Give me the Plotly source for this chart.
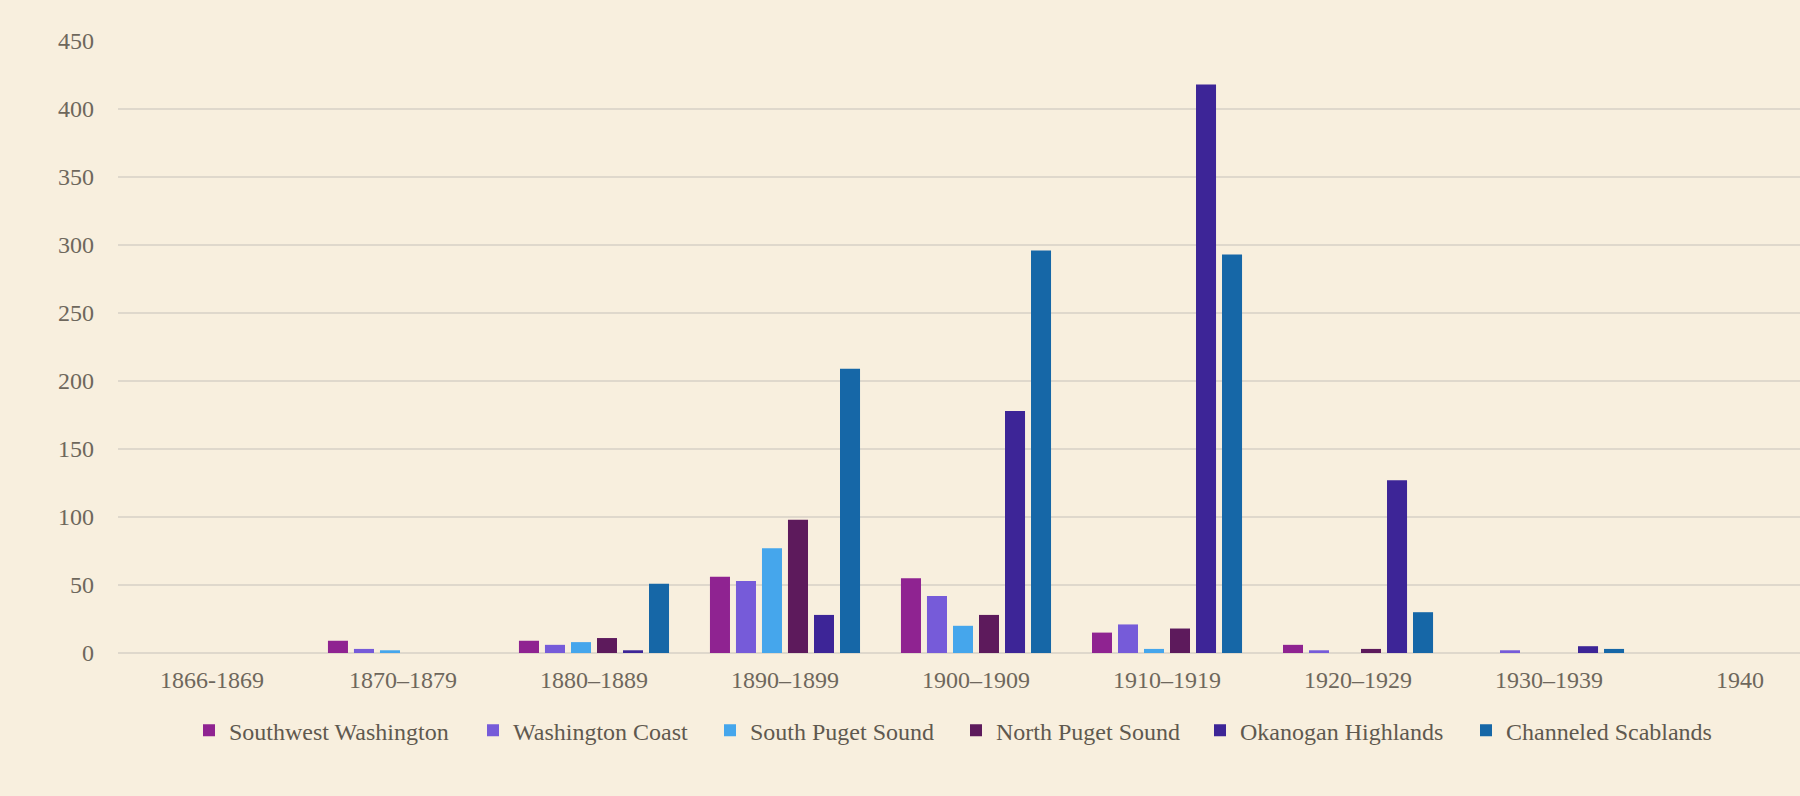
import plotly.graph_objects as go

categories = ["1866-1869", "1870–1879", "1880–1889", "1890–1899", "1900–1909",
              "1910–1919", "1920–1929", "1930–1939", "1940"]
southwest_washington = [0, 9, 9, 56, 55, 15, 6, 0, 0]
washington_coast = [0, 3, 6, 53, 42, 21, 2, 2, 0]
south_puget_sound = [0, 2, 8, 77, 20, 3, 0, 0, 0]
north_puget_sound = [0, 0, 11, 98, 28, 18, 3, 0, 0]
okanogan_highlands = [0, 0, 2, 28, 178, 418, 127, 5, 0]
channeled_scablands = [0, 0, 51, 209, 296, 293, 30, 3, 0]
y_ticks = [0, 50, 100, 150, 200, 250, 300, 350, 400, 450]

series = [
    ("Southwest Washington", southwest_washington, "#8F2391"),
    ("Washington Coast", washington_coast, "#765BD9"),
    ("South Puget Sound", south_puget_sound, "#45A6EC"),
    ("North Puget Sound", north_puget_sound, "#5D1A5C"),
    ("Okanogan Highlands", okanogan_highlands, "#3D2597"),
    ("Channeled Scablands", channeled_scablands, "#1667A7"),
]

# legend text start positions (px) -> paper coords relative to plot area
plot_left, plot_right = 118, 1800
legend_text_x = [226, 510, 747, 993, 1237, 1503]

fig = go.Figure()
layout_legends = {}
for i, (name, vals, col) in enumerate(series):
    key = "legend" if i == 0 else f"legend{i+1}"
    fig.add_trace(go.Bar(
        x=categories, y=vals, name=name,
        marker=dict(color=col, line=dict(width=0)),
        legend=key,
    ))
    lx = (legend_text_x[i] - 37 - plot_left) / (plot_right - plot_left)
    layout_legends[key] = dict(
        x=lx, xanchor="left", y=-0.127, yanchor="middle",
        orientation="h", bgcolor="rgba(0,0,0,0)",
        font=dict(family="Liberation Serif", size=24, color="#5F594F"),
    )

fig.update_layout(
    width=1800, height=796,
    margin=dict(l=plot_left, r=0, t=41, b=143),
    paper_bgcolor="#F8EFDE",
    plot_bgcolor="#F8EFDE",
    barmode="group",
    bargap=0.183,
    bargroupgap=0.23,
    font=dict(family="Liberation Serif", size=24, color="#6E675C"),
    showlegend=True,
    **layout_legends,
)
fig.update_xaxes(
    type="category",
    range=[-0.492, 8.314],
    showgrid=False, zeroline=False, showline=False,
    ticks="", ticklabelstandoff=10,
    tickfont=dict(family="Liberation Serif", size=24, color="#6E675C"),
)
fig.update_yaxes(
    range=[0, 450],
    tickvals=y_ticks,
    showgrid=True, gridcolor="#DFD8CC", gridwidth=1.5,
    zeroline=True, zerolinecolor="#DFD8CC", zerolinewidth=1.5,
    showline=False, ticks="", ticklabelstandoff=23,
    tickfont=dict(family="Liberation Serif", size=24, color="#6E675C"),
)

fig.write_html("out.html")
